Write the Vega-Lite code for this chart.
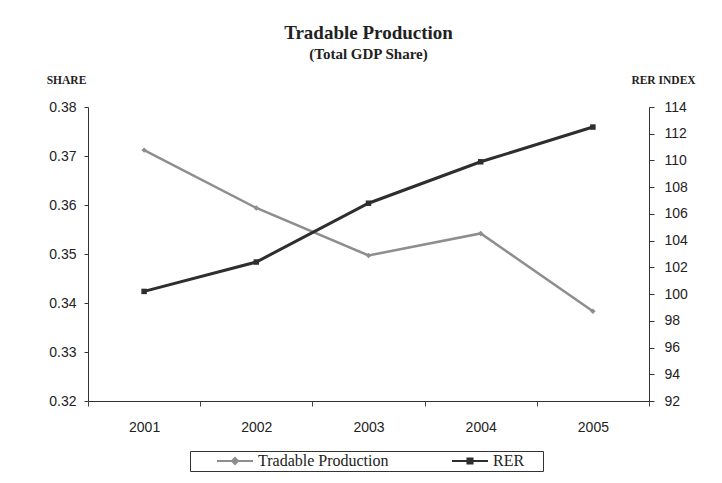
{
  "$schema": "https://vega.github.io/schema/vega-lite/v6.json",
  "width": 561,
  "height": 294,
  "autosize": {"type": "none"},
  "padding": {"left": 88, "top": 107, "right": 73, "bottom": 82},
  "background": "white",
  "config": {"view": {"stroke": null}, "font": "Liberation Sans"},
  "title": {
    "text": "Tradable Production",
    "subtitle": "(Total GDP Share)",
    "font": "Liberation Serif",
    "fontSize": 19,
    "fontWeight": "bold",
    "subtitleFont": "Liberation Serif",
    "subtitleFontSize": 15,
    "subtitleFontWeight": "bold",
    "subtitlePadding": 4,
    "color": "#222",
    "subtitleColor": "#222",
    "anchor": "middle",
    "offset": 12
  },
  "data": {
    "values": [
      {"year": "2001", "share": 0.3712, "rer": 100.2},
      {"year": "2002", "share": 0.3594, "rer": 102.4},
      {"year": "2003", "share": 0.3497, "rer": 106.8},
      {"year": "2004", "share": 0.3542, "rer": 109.9},
      {"year": "2005", "share": 0.3383, "rer": 112.5}
    ]
  },
  "encoding": {
    "x": {
      "field": "year",
      "type": "nominal",
      "bandPosition": 0.5,
      "scale": {"type": "band", "paddingInner": 0, "paddingOuter": 0},
      "axis": {
        "title": null,
        "labelAngle": 0,
        "labelFont": "Liberation Sans",
        "labelFontSize": 14,
        "labelColor": "#222",
        "tickBand": "extent",
        "tickSize": 5,
        "tickColor": "#444",
        "domainColor": "#333",
        "labelPadding": 14,
        "grid": false
      }
    }
  },
  "layer": [
    {
      "mark": {"type": "line", "strokeWidth": 2.5, "point": {"shape": "diamond", "size": 30, "filled": true}},
      "encoding": {
        "y": {
          "field": "share",
          "type": "quantitative",
          "scale": {"domain": [0.32, 0.38], "nice": false, "zero": false},
          "axis": {
            "title": "SHARE",
            "titleAngle": 0,
            "titleX": -22,
            "titleY": -24,
            "titleAlign": "center",
            "titleBaseline": "alphabetic",
            "titleFont": "Liberation Serif",
            "titleFontSize": 11.5,
            "titleFontWeight": "bold",
            "titleColor": "#222",
            "values": [0.32, 0.33, 0.34, 0.35, 0.36, 0.37, 0.38],
            "format": ".2f",
            "labelFont": "Liberation Sans",
            "labelFontSize": 14,
            "labelColor": "#222",
            "tickSize": 4,
            "labelPadding": 8,
            "grid": false,
            "domainColor": "#333",
            "tickColor": "#333"
          }
        },
        "color": {
          "datum": "Tradable Production",
          "type": "nominal",
          "scale": {"domain": ["Tradable Production", "RER"], "range": ["#8e8e8e", "#2e2e2e"]},
          "legend": {
            "title": null,
            "orient": "none",
            "legendX": 102,
            "legendY": 344,
            "direction": "horizontal",
            "columns": 2,
            "columnPadding": 38,
            "padding": 2,
            "strokeColor": "#333",
            "symbolSize": 196,
            "symbolStrokeWidth": 2,
            "labelOffset": 50,
            "labelFont": "Liberation Serif",
            "labelFontSize": 16,
            "labelColor": "#222",
            "labelExpr": "datum.label == 'RER' ? 'RER\u00a0\u2800' : datum.label",
            "encode": {
              "symbols": {
                "update": {
                  "shape": {"signal": "datum.value === 'RER' ? 'M2.43,0L7.57,0M4.64,-0.36L5.36,-0.36L5.36,0.36L4.64,0.36Z' : 'M2.43,0L7.57,0M4.57,0L5,-0.43L5.43,0L5,0.43Z'"},
                  "fill": {"signal": "datum.value === 'RER' ? '#2e2e2e' : '#bdbdbd'"},
                  "stroke": {"signal": "datum.value === 'RER' ? '#2e2e2e' : '#8e8e8e'"}
                }
              }
            }
          }
        }
      }
    },
    {
      "mark": {"type": "line", "strokeWidth": 3, "point": {"shape": "square", "size": 30, "filled": true}},
      "encoding": {
        "y": {
          "field": "rer",
          "type": "quantitative",
          "scale": {"domain": [92, 114], "nice": false, "zero": false},
          "axis": {
            "orient": "right",
            "title": "RER INDEX",
            "titleAngle": 0,
            "titleX": 14,
            "titleY": -24,
            "titleAlign": "center",
            "titleBaseline": "alphabetic",
            "titleFont": "Liberation Serif",
            "titleFontSize": 11.5,
            "titleFontWeight": "bold",
            "titleColor": "#222",
            "values": [92, 94, 96, 98, 100, 102, 104, 106, 108, 110, 112, 114],
            "format": "d",
            "labelFont": "Liberation Sans",
            "labelFontSize": 14,
            "labelColor": "#222",
            "tickSize": 5,
            "labelPadding": 10,
            "grid": false,
            "domainColor": "#333",
            "tickColor": "#333"
          }
        },
        "color": {"datum": "RER", "type": "nominal"}
      }
    }
  ],
  "resolve": {"scale": {"y": "independent"}}
}
